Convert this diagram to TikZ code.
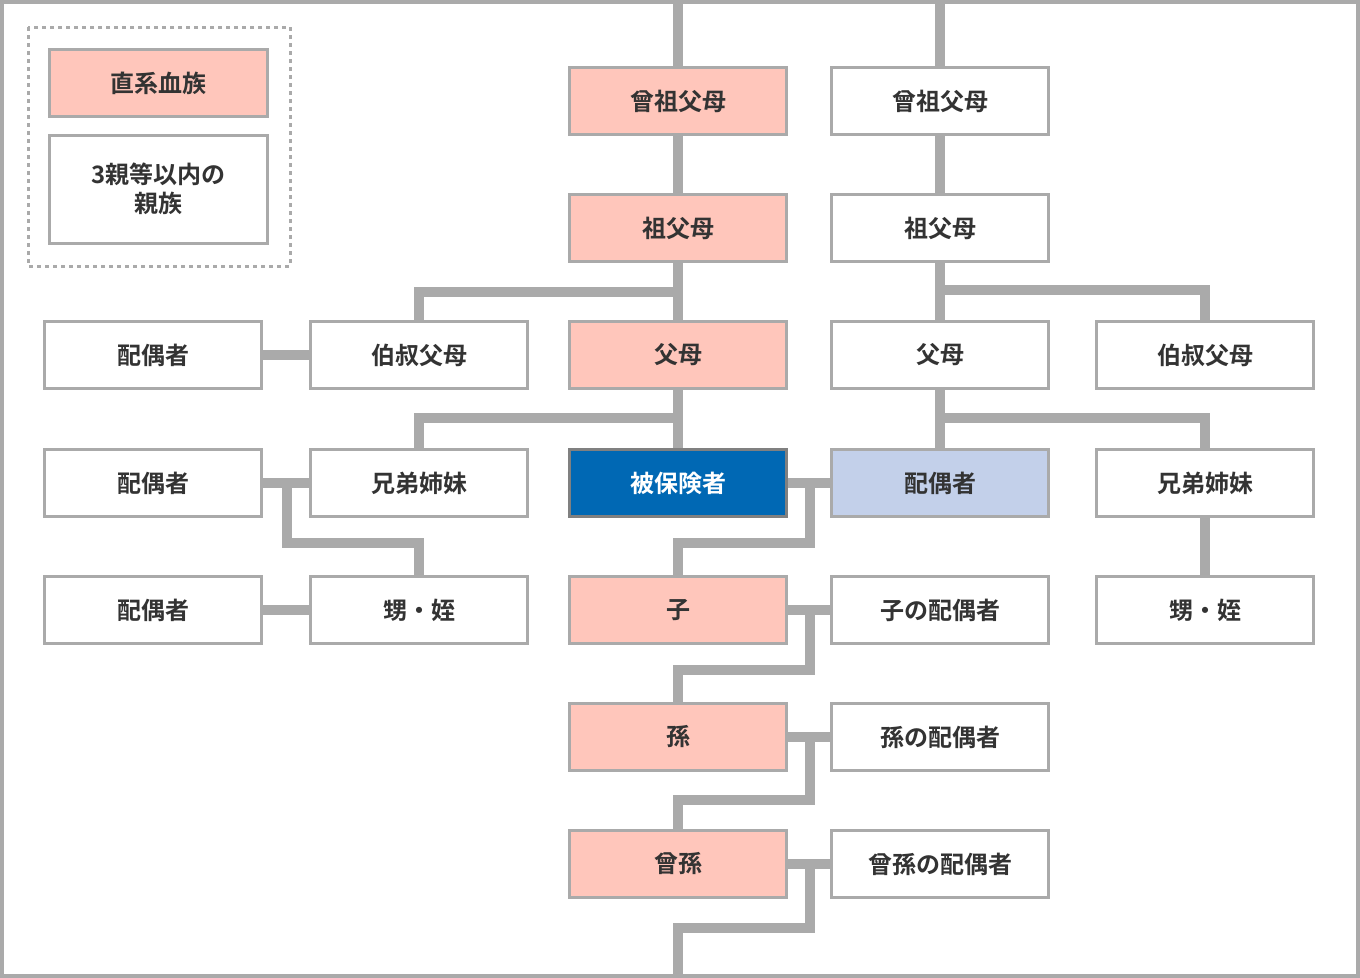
\documentclass[tikz,border=0pt]{standalone}
\usepackage{fontspec}
\setmainfont{Noto Sans CJK JP Bold}
\usetikzlibrary{backgrounds}
\definecolor{ln}{HTML}{AAAAAA}
\definecolor{pk}{HTML}{FFC6BB}
\definecolor{bl}{HTML}{0068B4}
\definecolor{lb}{HTML}{C3D0EA}
\definecolor{tx}{HTML}{333333}
\begin{document}
\begin{tikzpicture}[x=0.75pt,y=-0.75pt,
 box/.style={draw=ln,line width=2.25pt,fill=white,minimum width=163pt,minimum height=50.5pt,inner sep=0pt,text=tx,font=\fontsize{18}{22}\selectfont,align=center},
 pink/.style={box,fill=pk},
 conn/.style={draw=ln,line width=7.5pt}]
\useasboundingbox (0,0) rectangle (1360,978);
\draw[ln,line width=3pt] (2,2) rectangle (1358,976);
% legend
\draw[ln,line width=2.25pt,dash pattern=on 3pt off 3pt] (28,27) rectangle (290,266);
\node[pink] (L1) at (158.5,83) {直系血族};
\node[box,minimum height=81pt] (L2) at (158.5,189) {3親等以内の\\親族};
% column 3
\node[pink] (a0) at (678,101) {曾祖父母};
\node[pink] (a1) at (678,228) {祖父母};
\node[pink] (a2) at (678,355) {父母};
\node[box,fill=bl,draw=gray,text=white] (a3) at (678,483) {被保険者};
\node[pink] (a4) at (678,610) {子};
\node[pink] (a5) at (678,737) {孫};
\node[pink] (a6) at (678,864) {曾孫};
% column 4
\node[box] (b0) at (940,101) {曾祖父母};
\node[box] (b1) at (940,228) {祖父母};
\node[box] (b2) at (940,355) {父母};
\node[box,fill=lb] (b3) at (940,483) {配偶者};
\node[box] (b4) at (940,610) {子の配偶者};
\node[box] (b5) at (940,737) {孫の配偶者};
\node[box] (b6) at (940,864) {曾孫の配偶者};
% column 5
\node[box] (c2) at (1205,355) {伯叔父母};
\node[box] (c3) at (1205,483) {兄弟姉妹};
\node[box] (c4) at (1205,610) {甥・姪};
% column 2
\node[box] (d2) at (419,355) {伯叔父母};
\node[box] (d3) at (419,483) {兄弟姉妹};
\node[box] (d4) at (419,610) {甥・姪};
% column 1
\node[box] (e2) at (153,355) {配偶者};
\node[box] (e3) at (153,483) {配偶者};
\node[box] (e4) at (153,610) {配偶者};
% junctions
\coordinate (t3) at (678,0);
\coordinate (t4) at (940,0);
\coordinate (j1) at (678,292);
\coordinate (j2) at (678,418);
\coordinate (k1) at (940,290);
\coordinate (k2) at (940,418);
\coordinate (m1) at (287,483);
\coordinate (m2) at (287,543);
\coordinate (p3) at (810,483);
\coordinate (q3) at (810,543);
\coordinate (p4) at (810,610);
\coordinate (q4) at (810,670);
\coordinate (p5) at (810,737);
\coordinate (q5) at (810,800);
\coordinate (p6) at (810,864);
\coordinate (q6) at (810,928);
\coordinate (bot) at (678,978);
\begin{scope}[on background layer]
\draw[conn] (t3) -- (a0) -- (a1) -- (a2) -- (a3);
\draw[conn] (j1) -| (d2.north);
\draw[conn] (j2) -| (d3.north);
\draw[conn] (d2) -- (e2);
\draw[conn] (t4) -- (b0) -- (b1) -- (b2) -- (b3);
\draw[conn] (k1) -| (c2.north);
\draw[conn] (k2) -| (c3.north);
\draw[conn] (c3) -- (c4);
\draw[conn] (e3) -- (d3);
\draw[conn] (m1) -- (m2) -| (d4.north);
\draw[conn] (e4) -- (d4);
\draw[conn] (a3) -- (b3);
\draw[conn] (p3) -- (q3) -| (a4.north);
\draw[conn] (a4) -- (b4);
\draw[conn] (p4) -- (q4) -| (a5.north);
\draw[conn] (a5) -- (b5);
\draw[conn] (p5) -- (q5) -| (a6.north);
\draw[conn] (a6) -- (b6);
\draw[conn] (p6) -- (q6) -| (bot);
\end{scope}
\end{tikzpicture}
\end{document}
